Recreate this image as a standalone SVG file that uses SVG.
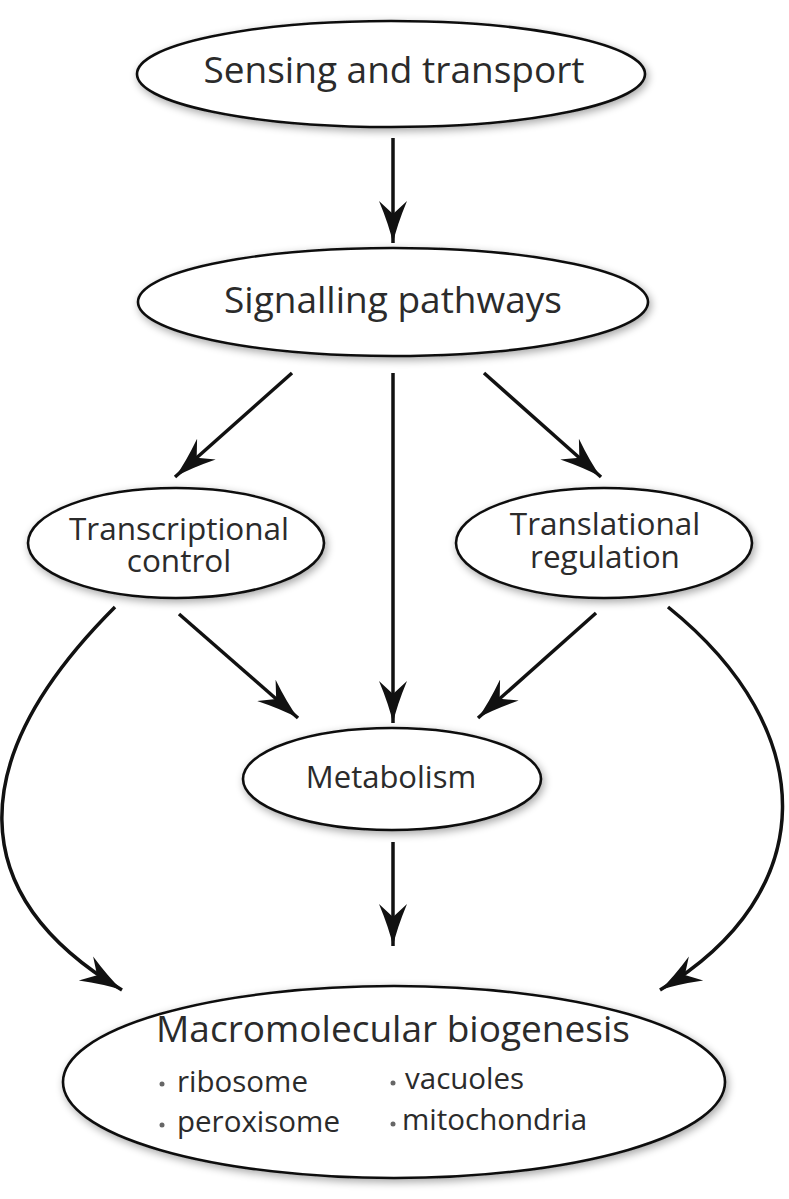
<svg xmlns="http://www.w3.org/2000/svg" width="789" height="1199" viewBox="0 0 789 1199">
<style>
.node{fill:#fff;stroke:#111;stroke-width:2.6;filter:url(#sh)}
.t{font-family:"Open Sans","Noto Sans",sans-serif;fill:#2b2b2b;text-anchor:middle}
.l{font-family:"Open Sans","Noto Sans",sans-serif;fill:#2b2b2b}
.c{fill:none;stroke:#111;stroke-width:3.5}
.dot{fill:#666}
</style>
<defs>
<filter id="sh" x="-10%" y="-20%" width="120%" height="140%">
<feGaussianBlur in="SourceAlpha" stdDeviation="4" result="b"/>
<feOffset in="b" dx="2" dy="3" result="o"/>
<feComponentTransfer in="o" result="s"><feFuncA type="linear" slope="0.35"/></feComponentTransfer>
<feMerge><feMergeNode in="s"/><feMergeNode in="SourceGraphic"/></feMerge>
</filter>
<marker id="ah" markerUnits="userSpaceOnUse" markerWidth="46" markerHeight="32" viewBox="0 -16 46 32" refX="42" refY="0" orient="auto">
<path d="M0,-14 Q24,-4 42,0 Q24,4 0,14 L13,0 z" fill="#111"/>
</marker>
</defs>
<g id="connectors">
<line class="c" x1="393" y1="138" x2="393" y2="243" marker-end="url(#ah)"/>
<line class="c" x1="292" y1="373" x2="175" y2="477" marker-end="url(#ah)"/>
<line class="c" x1="393" y1="373" x2="393" y2="723" marker-end="url(#ah)"/>
<line class="c" x1="484" y1="373" x2="601" y2="477" marker-end="url(#ah)"/>
<line class="c" x1="179" y1="614" x2="298" y2="718" marker-end="url(#ah)"/>
<line class="c" x1="596" y1="613" x2="478" y2="718" marker-end="url(#ah)"/>
<line class="c" x1="393" y1="842" x2="393" y2="946" marker-end="url(#ah)"/>
<path class="c" d="M115,607 C-37,759 -37,895 122,990" marker-end="url(#ah)"/>
<path class="c" d="M668,607 C822,731 822,893 660,990" marker-end="url(#ah)"/>
</g>
<g id="n-sensing">
<ellipse class="node" cx="391" cy="74" rx="254" ry="53"/>
<text class="t" x="394" y="83" font-size="37">Sensing and transport</text>
</g>
<g id="n-signalling">
<ellipse class="node" cx="393" cy="302" rx="255" ry="54"/>
<text class="t" x="393" y="313" font-size="37">Signalling pathways</text>
</g>
<g id="n-transcriptional">
<ellipse class="node" cx="176" cy="543" rx="148" ry="55"/>
<text class="t" x="179" y="540" font-size="31.5">Transcriptional</text>
<text class="t" x="179" y="572" font-size="31.5">control</text>
</g>
<g id="n-translational">
<ellipse class="node" cx="604" cy="543" rx="148" ry="55"/>
<text class="t" x="605" y="535" font-size="31.5">Translational</text>
<text class="t" x="605" y="568" font-size="31.5">regulation</text>
</g>
<g id="n-metabolism">
<ellipse class="node" cx="392" cy="779" rx="149" ry="51"/>
<text class="t" x="391" y="788" font-size="31">Metabolism</text>
</g>
<g id="n-macromolecular">
<ellipse class="node" cx="394" cy="1082" rx="331" ry="96"/>
<text class="t" x="393" y="1042" font-size="37">Macromolecular biogenesis</text>
<circle class="dot" cx="162" cy="1084" r="2.5"/>
<text class="l" x="177" y="1092" font-size="29.5">ribosome</text>
<circle class="dot" cx="162" cy="1125" r="2.5"/>
<text class="l" x="177" y="1132" font-size="29.5">peroxisome</text>
<circle class="dot" cx="393" cy="1083" r="2.5"/>
<text class="l" x="405" y="1089" font-size="29.5">vacuoles</text>
<circle class="dot" cx="393" cy="1124" r="2.5"/>
<text class="l" x="402" y="1130" font-size="29.5">mitochondria</text>
</g>
</svg>
